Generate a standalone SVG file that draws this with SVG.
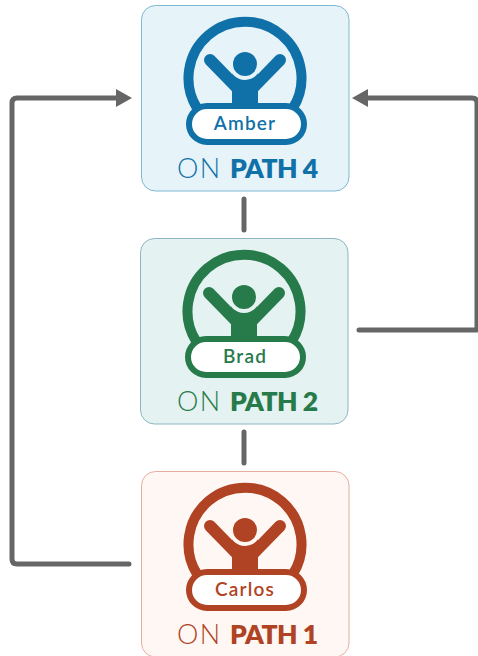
<svg xmlns="http://www.w3.org/2000/svg" width="478" height="656" viewBox="0 0 478 656">
<style>
.card{stroke-width:1}
.ring{fill:none;stroke-width:10}
.arm{fill:none;stroke-width:12;stroke-linecap:round}
.pill{fill:#fff;stroke-width:6}
.name{font:600 19px Lato,"Liberation Sans",sans-serif;text-anchor:middle;letter-spacing:1.200px}
.on{font:300 27px Lato,"Liberation Sans",sans-serif;letter-spacing:1.400px}
.pth{font:800 26.5px Lato,"Liberation Sans",sans-serif;letter-spacing:-.5px}
.conn{fill:none;stroke:#666;stroke-width:5;stroke-linecap:round;stroke-linejoin:round}
</style>
<defs>
<marker id="ah" markerUnits="userSpaceOnUse" markerWidth="16" markerHeight="18" refX="0" refY="9" orient="auto"><path d="M0 0L16 9L0 18Z" fill="#666"/></marker>
</defs>
<g id="connectors">
<path class="conn" d="M129 564H17Q12 564 12 559V103Q12 98 17 98H116" marker-end="url(#ah)"/>
<path class="conn" d="M359 330H477V103Q477 98 472 98H368" marker-end="url(#ah)"/>
<path class="conn" d="M244 199V230"/>
<path class="conn" d="M244 432V463"/>
</g>
<g id="amber">
<rect class="card" x="141.500" y="5.500" width="207.500" height="185.500" rx="14" fill="#e6f4f9" stroke="#7db8d4"/>
<g stroke="#1071a8" fill="#1071a8">
<path class="ring" d="M197 108A56.500 56.500 0 1 1 293 108"/>
<path class="arm" d="M210 60L245 96L280 60"/>
<rect x="232" y="70" width="26" height="37" stroke="none"/>
<circle cx="245" cy="64" r="16" fill="#e6f4f9" stroke="none"/>
<circle cx="245" cy="64" r="12" stroke="none"/>
<rect class="pill" x="189" y="106" width="115" height="36" rx="18"/>
</g>
<text class="name" x="245" y="130" fill="#1071a8">Amber</text>
<text class="on" x="177" y="178" fill="#1071a8">ON</text>
<text class="pth" x="230" y="178" fill="#1071a8">PATH 4</text>
</g>
<g id="brad">
<rect class="card" x="140.500" y="238.500" width="207.500" height="185.500" rx="14" fill="#e4f2f1" stroke="#8fb5c4"/>
<g stroke="#277a4a" fill="#277a4a">
<path class="ring" d="M196 341A56.500 56.500 0 1 1 292 341"/>
<path class="arm" d="M209 293L244 329L279 293"/>
<rect x="231" y="303" width="26" height="37" stroke="none"/>
<circle cx="244" cy="297" r="16" fill="#e4f2f1" stroke="none"/>
<circle cx="244" cy="297" r="12" stroke="none"/>
<rect class="pill" x="188" y="339" width="115" height="36" rx="18"/>
</g>
<text class="name" x="245" y="363" fill="#277a4a">Brad</text>
<text class="on" x="177" y="411" fill="#277a4a">ON</text>
<text class="pth" x="230" y="411" fill="#277a4a">PATH 2</text>
</g>
<g id="carlos">
<rect class="card" x="141.500" y="471.500" width="207.500" height="185.500" rx="14" fill="#fff7f4" stroke="#e5ad9c"/>
<g stroke="#b04323" fill="#b04323">
<path class="ring" d="M197 574A56.500 56.500 0 1 1 293 574"/>
<path class="arm" d="M210 526L245 562L280 526"/>
<rect x="232" y="536" width="26" height="37" stroke="none"/>
<circle cx="245" cy="530" r="16" fill="#fff7f4" stroke="none"/>
<circle cx="245" cy="530" r="12" stroke="none"/>
<rect class="pill" x="189" y="572" width="115" height="36" rx="18"/>
</g>
<text class="name" x="245" y="596" fill="#b04323">Carlos</text>
<text class="on" x="177" y="644" fill="#b04323">ON</text>
<text class="pth" x="230" y="644" fill="#b04323">PATH 1</text>
</g>
</svg>
